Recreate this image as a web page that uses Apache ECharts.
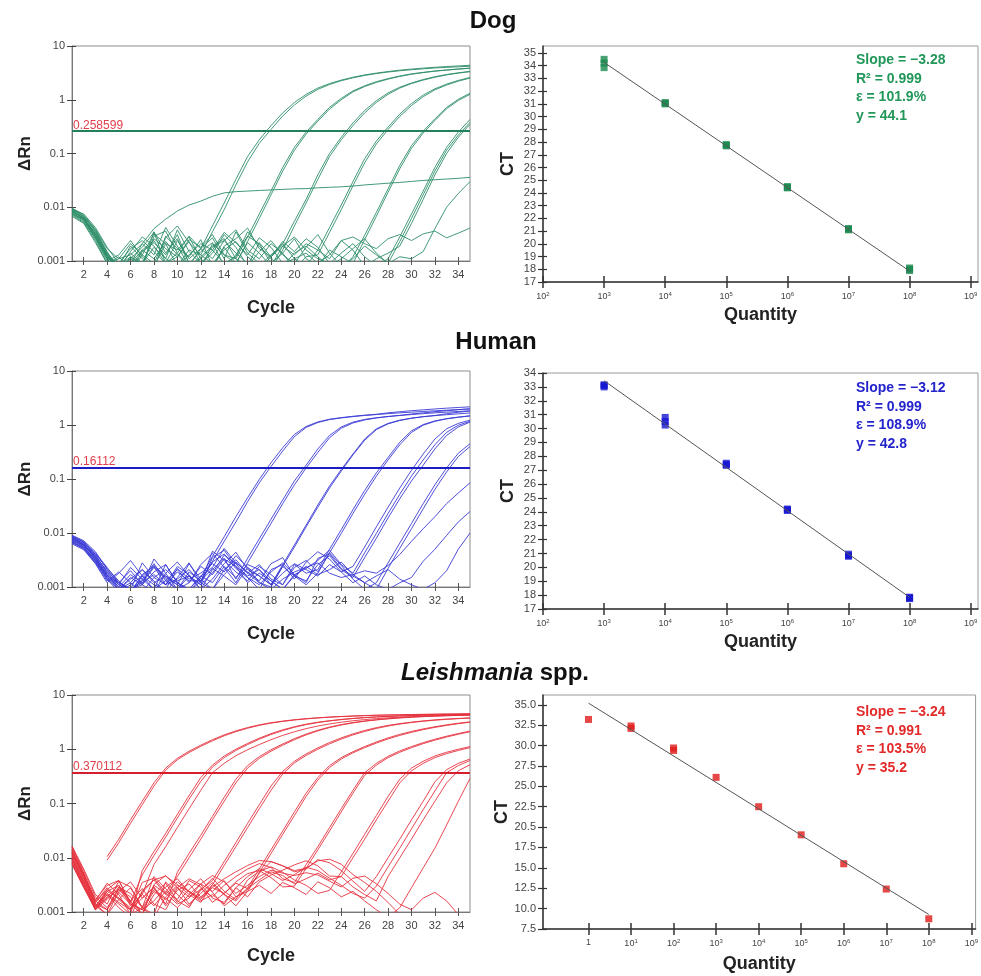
<!DOCTYPE html>
<html>
<head>
<meta charset="utf-8">
<script src="https://cdn.jsdelivr.net/npm/echarts@6.0.0/dist/echarts.min.js"></script>
<style>
html, body { margin: 0; padding: 0; background: #fff; }
#chart { width: 981px; height: 976px; }
</style>
</head>
<body>
<div id="chart"></div>
<script>
// ---------- amplification plots: ΔRn per cycle, one array per well ----------
const cycles = [1,2,3,4,5,6,7,8,9,10,11,12,13,14,15,16,17,18,19,20,21,22,23,24,25,26,27,28,29,30,31,32,33,34,35];

const dogCurves = [
  [0.0085,0.0062,0.0031,0.0012,0.0007,0.0015,0.0028,0.0019,0.0009,0.0024,0.0011,0.0017,0.0045,0.012,0.033,0.088,0.18,0.33,0.57,0.89,1.26,1.65,2.0,2.32,2.62,2.9,3.13,3.35,3.55,3.72,3.88,4.02,4.15,4.26,4.38],
  [0.0092,0.0075,0.0042,0.0018,0.0009,0.0006,0.0013,0.0032,0.0021,0.0008,0.0016,0.0013,0.0035,0.009,0.026,0.07,0.155,0.28,0.5,0.8,1.17,1.56,1.92,2.26,2.56,2.83,3.07,3.28,3.46,3.62,3.76,3.9,4.0,4.1,4.2],
  [0.0078,0.0058,0.0027,0.0011,0.0006,0.0012,0.0008,0.0035,0.0014,0.0026,0.0009,0.0007,0.0021,0.0013,0.0011,0.0028,0.0075,0.02,0.055,0.13,0.25,0.43,0.72,1.06,1.46,1.82,2.17,2.47,2.77,3.03,3.23,3.43,3.58,3.74,3.88],
  [0.0095,0.0068,0.0036,0.0014,0.0008,0.0019,0.0011,0.0007,0.0029,0.0017,0.0012,0.0025,0.0008,0.0018,0.0009,0.0023,0.0062,0.017,0.047,0.115,0.23,0.4,0.67,1.0,1.4,1.76,2.1,2.42,2.72,2.98,3.2,3.4,3.56,3.71,3.85],
  [0.0071,0.0052,0.0024,0.0009,0.0012,0.0007,0.0016,0.0024,0.0011,0.0038,0.0015,0.0009,0.0014,0.0031,0.0018,0.0008,0.0022,0.0012,0.0021,0.0055,0.014,0.04,0.1,0.2,0.37,0.63,0.96,1.34,1.71,2.05,2.38,2.68,2.95,3.17,3.37],
  [0.0088,0.0061,0.0033,0.0013,0.0006,0.0009,0.0021,0.0013,0.0042,0.0019,0.0008,0.0017,0.0027,0.0011,0.0035,0.0014,0.0009,0.0007,0.0016,0.0045,0.012,0.033,0.088,0.18,0.33,0.57,0.89,1.26,1.65,2.0,2.32,2.62,2.9,3.13,3.33],
  [0.0082,0.0064,0.0029,0.0012,0.0008,0.0014,0.0009,0.0026,0.0017,0.0012,0.0023,0.0009,0.0016,0.0034,0.0022,0.0013,0.0027,0.0018,0.0009,0.0011,0.0008,0.0016,0.0042,0.011,0.03,0.08,0.17,0.31,0.54,0.85,1.22,1.6,1.95,2.29,2.6],
  [0.0091,0.0069,0.0038,0.0015,0.0007,0.0011,0.0018,0.0034,0.0009,0.0014,0.0029,0.0017,0.0011,0.0024,0.0038,0.0016,0.0011,0.0021,0.0014,0.0007,0.0012,0.0013,0.0034,0.009,0.025,0.067,0.15,0.28,0.49,0.78,1.14,1.53,1.88,2.22,2.53],
  [0.0075,0.0054,0.0026,0.001,0.0013,0.0024,0.0012,0.0008,0.0021,0.0016,0.0028,0.0011,0.0007,0.0019,0.0026,0.0041,0.0017,0.0012,0.0023,0.0015,0.0026,0.0018,0.0009,0.0007,0.0012,0.003,0.008,0.022,0.06,0.14,0.26,0.44,0.72,1.02,1.32],
  [0.0086,0.0059,0.0031,0.0013,0.0008,0.0006,0.0015,0.0022,0.0013,0.0031,0.0009,0.0015,0.0022,0.0008,0.0013,0.0029,0.0021,0.0009,0.0014,0.0026,0.0011,0.0008,0.0016,0.0012,0.0009,0.0025,0.0068,0.019,0.052,0.125,0.24,0.41,0.68,0.97,1.26],
  [0.0079,0.006,0.0028,0.0011,0.0009,0.0017,0.0024,0.0015,0.0009,0.0012,0.0025,0.0018,0.0031,0.0013,0.0009,0.0022,0.0014,0.0008,0.0019,0.0028,0.0016,0.0011,0.0009,0.0014,0.0021,0.0012,0.0008,0.0011,0.0028,0.0075,0.02,0.055,0.13,0.25,0.43],
  [0.0089,0.0066,0.0035,0.0014,0.0007,0.0011,0.0008,0.0029,0.0036,0.0014,0.0008,0.0012,0.0019,0.0026,0.0011,0.0008,0.0015,0.0024,0.0013,0.0009,0.0018,0.0031,0.0014,0.0008,0.0011,0.0019,0.0013,0.0009,0.0023,0.0062,0.017,0.047,0.115,0.22,0.38],
  [0.0068,0.005,0.0022,0.0009,0.0011,0.0021,0.0013,0.0009,0.0027,0.0045,0.0022,0.0013,0.0009,0.0016,0.0023,0.0012,0.0008,0.0013,0.0021,0.0011,0.0014,0.0009,0.0013,0.0024,0.0016,0.0008,0.0011,0.0014,0.0019,0.005,0.014,0.04,0.1,0.2,0.35],
  [0.0097,0.0072,0.0039,0.0017,0.0011,0.0013,0.0021,0.004,0.006,0.0085,0.011,0.013,0.016,0.0185,0.0195,0.02,0.0205,0.021,0.0215,0.022,0.0222,0.023,0.0235,0.024,0.0248,0.026,0.027,0.028,0.029,0.0302,0.0315,0.0325,0.0335,0.0345,0.036],
  [0.0084,0.0063,0.0032,0.0013,0.0008,0.0012,0.0009,0.0018,0.0011,0.0008,0.0013,0.0021,0.0016,0.0009,0.0012,0.0035,0.0019,0.0011,0.0008,0.0014,0.0019,0.0012,0.0008,0.0011,0.0017,0.0026,0.0014,0.0009,0.0012,0.0011,0.0015,0.004,0.01,0.018,0.03],
  [0.0074,0.0058,0.0027,0.0012,0.0007,0.0009,0.0016,0.0011,0.0023,0.0013,0.0008,0.0011,0.0018,0.0024,0.0014,0.0009,0.0007,0.0012,0.0019,0.0013,0.0021,0.0016,0.0011,0.0024,0.0028,0.0021,0.0017,0.0026,0.0031,0.0024,0.0032,0.0036,0.0027,0.0033,0.0041]
];

const humanCurves = [
  [0.0082,0.0061,0.0034,0.0016,0.0011,0.0023,0.0014,0.0009,0.0026,0.0012,0.0008,0.0015,0.0037,0.0085,0.02,0.045,0.098,0.2,0.38,0.67,0.94,1.14,1.28,1.37,1.45,1.52,1.58,1.68,1.76,1.84,1.91,1.98,2.05,2.11,2.17],
  [0.0075,0.0058,0.0041,0.0022,0.0013,0.0008,0.0017,0.0024,0.0011,0.0019,0.0013,0.0013,0.003,0.007,0.016,0.038,0.085,0.17,0.33,0.61,0.9,1.11,1.26,1.35,1.43,1.5,1.56,1.62,1.68,1.73,1.78,1.83,1.88,1.93,1.98],
  [0.0088,0.0069,0.0038,0.0019,0.0012,0.0009,0.0028,0.0015,0.0011,0.0024,0.0017,0.0009,0.0021,0.0034,0.0014,0.0034,0.0078,0.018,0.041,0.092,0.18,0.36,0.64,0.92,1.13,1.27,1.36,1.44,1.51,1.6,1.68,1.76,1.84,1.92,2.0],
  [0.0069,0.0052,0.0029,0.0014,0.0009,0.0015,0.0011,0.0033,0.0018,0.0009,0.0012,0.0026,0.0042,0.0023,0.0012,0.0028,0.0065,0.015,0.035,0.078,0.16,0.31,0.58,0.87,1.09,1.24,1.35,1.43,1.5,1.56,1.62,1.68,1.73,1.78,1.83],
  [0.0091,0.0072,0.0045,0.0021,0.0011,0.0008,0.0014,0.0027,0.0013,0.0009,0.0016,0.0011,0.0035,0.0048,0.0024,0.0016,0.0021,0.0011,0.0026,0.006,0.014,0.033,0.074,0.15,0.29,0.55,0.85,1.07,1.23,1.34,1.43,1.5,1.62,1.72,1.82],
  [0.0063,0.0049,0.0027,0.0012,0.0018,0.0031,0.0016,0.0011,0.0009,0.0022,0.0014,0.0018,0.0027,0.0019,0.0038,0.0023,0.0012,0.001,0.0024,0.0055,0.013,0.03,0.068,0.14,0.28,0.52,0.82,1.05,1.21,1.33,1.42,1.49,1.55,1.61,1.67],
  [0.0079,0.0064,0.0036,0.0017,0.0009,0.0012,0.0021,0.0013,0.0008,0.0015,0.0028,0.0012,0.0046,0.0031,0.0019,0.0013,0.0024,0.0017,0.0011,0.0026,0.0018,0.0021,0.005,0.0115,0.027,0.061,0.13,0.25,0.48,0.78,1.02,1.19,1.31,1.4,1.48],
  [0.0085,0.0066,0.0043,0.0023,0.0012,0.0009,0.0011,0.0019,0.0026,0.0012,0.0009,0.0016,0.0023,0.0052,0.0028,0.0019,0.0013,0.0027,0.0035,0.0016,0.0011,0.0018,0.0043,0.0098,0.023,0.052,0.113,0.225,0.43,0.73,0.99,1.17,1.3,1.39,1.47],
  [0.0072,0.0055,0.0031,0.0015,0.001,0.0017,0.0012,0.0023,0.0014,0.0009,0.0019,0.0013,0.0029,0.0041,0.0022,0.0015,0.0009,0.0021,0.0026,0.0014,0.0029,0.0045,0.0033,0.0019,0.0024,0.0055,0.013,0.03,0.068,0.145,0.29,0.55,0.85,1.07,1.23],
  [0.0081,0.0059,0.0033,0.0014,0.0008,0.0011,0.0016,0.0009,0.0013,0.0021,0.0012,0.0024,0.0017,0.0033,0.0024,0.0012,0.0018,0.0013,0.0009,0.0017,0.0022,0.0031,0.0048,0.0026,0.0018,0.0043,0.0098,0.023,0.052,0.113,0.225,0.43,0.73,0.99,1.17],
  [0.0066,0.0051,0.0028,0.0013,0.0019,0.0012,0.0008,0.0015,0.0021,0.0013,0.0016,0.0009,0.0014,0.0027,0.0044,0.0021,0.0016,0.0011,0.0024,0.0016,0.0013,0.0026,0.0038,0.0021,0.0015,0.0035,0.008,0.019,0.043,0.092,0.18,0.36,0.64,0.92,1.13],
  [0.0087,0.0068,0.004,0.0018,0.0011,0.0009,0.0013,0.0024,0.0015,0.0011,0.0027,0.0014,0.0009,0.0021,0.0032,0.0018,0.0026,0.0014,0.0011,0.0023,0.0031,0.0019,0.0043,0.0025,0.0014,0.0009,0.0012,0.0028,0.0065,0.015,0.035,0.078,0.16,0.3,0.45],
  [0.0074,0.0056,0.0032,0.0016,0.0012,0.002,0.0011,0.0008,0.0018,0.0029,0.0016,0.0011,0.0018,0.0039,0.0027,0.0015,0.0011,0.0019,0.0028,0.0017,0.0012,0.0034,0.0041,0.0022,0.0016,0.0012,0.0009,0.0022,0.0052,0.012,0.028,0.064,0.135,0.26,0.4],
  [0.0078,0.006,0.0037,0.002,0.0012,0.0009,0.0012,0.0017,0.0011,0.0014,0.0021,0.0012,0.0009,0.0017,0.0029,0.0018,0.0012,0.0009,0.0014,0.0019,0.0023,0.0028,0.0018,0.0015,0.0017,0.002,0.0018,0.0025,0.004,0.007,0.012,0.02,0.035,0.055,0.085],
  [0.0068,0.0053,0.003,0.0015,0.0009,0.0014,0.0021,0.0012,0.0016,0.0011,0.0008,0.0013,0.0022,0.0016,0.0011,0.0023,0.0016,0.0011,0.0018,0.0027,0.0021,0.0016,0.0026,0.0019,0.0012,0.0016,0.0011,0.0009,0.0012,0.0015,0.003,0.005,0.009,0.016,0.025],
  [0.0084,0.0062,0.0035,0.0017,0.001,0.0008,0.0016,0.0025,0.0016,0.0012,0.0009,0.0016,0.0012,0.0024,0.0015,0.0026,0.0021,0.0013,0.0009,0.0016,0.0024,0.0017,0.0021,0.0029,0.0017,0.0012,0.0016,0.0021,0.0014,0.0011,0.0009,0.0012,0.002,0.005,0.01]
];

const leishCurves = [
  [null,null,null,0.0105,0.022,0.05,0.11,0.24,0.45,0.68,0.92,1.19,1.5,1.84,2.18,2.51,2.82,3.08,3.3,3.5,3.66,3.8,3.92,4.02,4.1,4.18,4.24,4.29,4.33,4.37,4.4,4.43,4.46,4.48,4.5],
  [null,null,null,0.009,0.019,0.043,0.095,0.21,0.41,0.64,0.87,1.13,1.43,1.77,2.11,2.44,2.76,3.03,3.26,3.46,3.63,3.77,3.9,4.0,4.08,4.16,4.22,4.27,4.31,4.35,4.38,4.41,4.44,4.46,4.48],
  [0.016,0.0052,0.0016,0.0034,0.0021,0.0009,0.0058,0.013,0.028,0.063,0.14,0.3,0.51,0.75,1.0,1.28,1.6,1.94,2.28,2.6,2.9,3.15,3.36,3.55,3.7,3.84,3.95,4.04,4.12,4.19,4.25,4.3,4.34,4.38,4.41],
  [0.012,0.0041,0.0012,0.0026,0.0038,0.0015,0.0048,0.011,0.024,0.054,0.12,0.255,0.47,0.7,0.95,1.22,1.53,1.87,2.21,2.54,2.85,3.1,3.32,3.51,3.68,3.82,3.93,4.02,4.1,4.17,4.23,4.28,4.32,4.36,4.39],
  [0.0095,0.0033,0.0011,0.0019,0.0031,0.0013,0.0021,0.0075,0.016,0.036,0.08,0.175,0.37,0.55,0.76,0.98,1.22,1.5,1.8,2.1,2.4,2.68,2.93,3.15,3.35,3.52,3.67,3.8,3.91,4.0,4.08,4.15,4.21,4.26,4.3],
  [0.014,0.0045,0.0013,0.0009,0.0024,0.0036,0.0018,0.0029,0.0014,0.0054,0.012,0.026,0.058,0.13,0.28,0.5,0.73,0.98,1.25,1.57,1.9,2.24,2.56,2.85,3.1,3.32,3.5,3.66,3.8,3.92,4.02,4.1,4.17,4.23,4.28],
  [0.011,0.0038,0.0015,0.0028,0.0017,0.0011,0.0035,0.0042,0.0023,0.0045,0.01,0.022,0.05,0.11,0.24,0.45,0.68,0.92,1.19,1.5,1.84,2.18,2.51,2.8,3.06,3.28,3.47,3.63,3.77,3.89,3.99,4.07,4.14,4.2,4.25],
  [0.0125,0.0047,0.0014,0.0011,0.0029,0.0016,0.0009,0.0032,0.0047,0.0028,0.0019,0.0026,0.0038,0.0085,0.019,0.043,0.095,0.21,0.39,0.6,0.82,1.06,1.33,1.62,1.92,2.22,2.5,2.75,2.97,3.16,3.33,3.48,3.6,3.7,3.79],
  [0.0088,0.0031,0.0012,0.0021,0.0012,0.0008,0.0025,0.0039,0.0021,0.0036,0.0024,0.0018,0.0032,0.0072,0.016,0.036,0.08,0.175,0.35,0.56,0.77,1.0,1.26,1.54,1.84,2.13,2.42,2.68,2.91,3.11,3.28,3.43,3.56,3.66,3.75],
  [0.0135,0.0051,0.0017,0.0031,0.0038,0.0014,0.0011,0.0024,0.0017,0.0029,0.0014,0.0022,0.0035,0.0021,0.0016,0.0028,0.0062,0.014,0.031,0.07,0.155,0.3,0.5,0.7,0.9,1.12,1.36,1.62,1.88,2.13,2.37,2.6,2.82,3.02,3.2],
  [0.0105,0.0036,0.0011,0.0017,0.0028,0.0022,0.0012,0.0045,0.0027,0.0015,0.0026,0.0041,0.0023,0.0013,0.0019,0.0024,0.0053,0.012,0.027,0.06,0.135,0.27,0.46,0.66,0.86,1.07,1.3,1.55,1.8,2.05,2.3,2.53,2.75,2.96,3.15],
  [0.0155,0.0058,0.0019,0.0012,0.0026,0.0019,0.0009,0.0021,0.0034,0.0016,0.0012,0.0027,0.0019,0.0031,0.0045,0.0062,0.0078,0.0066,0.0041,0.0035,0.0075,0.016,0.036,0.08,0.175,0.37,0.55,0.74,0.93,1.12,1.32,1.53,1.74,1.95,2.16],
  [0.0092,0.0034,0.0013,0.0022,0.0015,0.0011,0.0018,0.0028,0.0013,0.0025,0.0033,0.0019,0.0028,0.0022,0.0036,0.0051,0.0058,0.0043,0.0029,0.003,0.0064,0.014,0.031,0.07,0.155,0.33,0.51,0.7,0.88,1.07,1.27,1.47,1.68,1.89,2.1],
  [0.0118,0.0043,0.0014,0.0009,0.0017,0.0028,0.0012,0.0009,0.0036,0.0021,0.0013,0.0025,0.0042,0.0024,0.0017,0.0039,0.0056,0.0068,0.0054,0.0039,0.0031,0.0022,0.0025,0.0055,0.012,0.027,0.06,0.135,0.28,0.45,0.6,0.75,0.88,1.0,1.12],
  [0.0075,0.0028,0.0011,0.0024,0.0031,0.0016,0.0027,0.0014,0.0011,0.0028,0.0041,0.0032,0.0018,0.0015,0.0028,0.0019,0.0036,0.0048,0.0059,0.0074,0.0088,0.0071,0.0046,0.0045,0.01,0.022,0.05,0.11,0.24,0.4,0.55,0.7,0.83,0.95,1.07],
  [0.0142,0.0049,0.0016,0.0011,0.0023,0.0014,0.0009,0.0031,0.0022,0.0014,0.0018,0.0033,0.0024,0.0038,0.0019,0.0026,0.0052,0.0085,0.0071,0.0055,0.0062,0.0092,0.0081,0.0058,0.0037,0.0024,0.0045,0.01,0.022,0.05,0.11,0.25,0.42,0.55,0.66],
  [0.0098,0.0035,0.0012,0.0018,0.0026,0.0015,0.0011,0.0016,0.0029,0.0041,0.0023,0.0016,0.0021,0.0014,0.0028,0.0045,0.0063,0.0051,0.0038,0.0049,0.0067,0.0058,0.0042,0.0031,0.0022,0.0018,0.003,0.0068,0.015,0.034,0.077,0.17,0.37,0.5,0.62],
  [0.0128,0.0046,0.0015,0.0026,0.0018,0.0012,0.0021,0.0013,0.0024,0.0017,0.0038,0.0029,0.0015,0.0022,0.0034,0.0027,0.0039,0.0055,0.0047,0.0033,0.0041,0.0052,0.0039,0.0045,0.0029,0.0021,0.0016,0.0045,0.01,0.022,0.05,0.11,0.24,0.4,0.52],
  [0.0082,0.003,0.0011,0.0021,0.0014,0.0009,0.0012,0.0026,0.0018,0.0012,0.0021,0.0015,0.0032,0.0021,0.0013,0.0024,0.0031,0.0022,0.0035,0.0028,0.0021,0.0036,0.0028,0.0019,0.0024,0.0016,0.0011,0.0008,0.0012,0.0028,0.0065,0.015,0.04,0.11,0.29],
  [0.0165,0.0062,0.0021,0.0014,0.0037,0.0029,0.0012,0.0008,0.0019,0.0031,0.0024,0.0017,0.0029,0.0041,0.0055,0.0072,0.0089,0.0085,0.0071,0.0058,0.0064,0.0088,0.0094,0.0076,0.0049,0.0035,0.0024,0.0015,0.0009,0.0006,0.0005,0.0005,0.0005,0.0005,0.0005],
  [0.0078,0.0029,0.0013,0.0024,0.0018,0.0011,0.0023,0.0039,0.0046,0.0032,0.0021,0.0033,0.0047,0.0036,0.0022,0.0031,0.0045,0.0059,0.0052,0.0047,0.0053,0.0048,0.0037,0.0029,0.0042,0.0046,0.0033,0.0022,0.0014,0.0011,0.0018,0.0023,0.0016,0.0009,0.0006]
];

const thresholds = [0.258599, 0.16112, 0.370112];
const ampTicks = [2,4,6,8,10,12,14,16,18,20,22,24,26,28,30,32,34];

// ---------- standard curves: quantity vs CT ----------
const dogQty = [1e3,1e3,1e3,1e4,1e4,1e4,1e5,1e5,1e5,1e6,1e6,1e6,1e7,1e7,1e7,1e8,1e8,1e8];
const dogCt  = [34.5,34.2,33.85,31.1,31.0,31.05,27.8,27.7,27.75,24.45,24.4,24.5,21.2,21.1,21.15,18.1,17.9,18.0];
const humanQty = [1e3,1e3,1e3,1e4,1e4,1e4,1e5,1e5,1e5,1e6,1e6,1e6,1e7,1e7,1e7,1e8,1e8,1e8];
const humanCt  = [33.1,33.0,33.15,30.8,30.5,30.25,27.5,27.35,27.4,24.15,24.1,24.2,20.95,20.8,20.85,17.8,17.75,17.85];
const leishQty = [1,10,10,100,100,1e3,1e4,1e5,1e6,1e7,1e8];
const leishCt  = [33.2,32.4,32.1,29.7,29.4,26.1,22.5,19.05,15.5,12.4,8.75];

const fitSlope = [-3.28, -3.12, -3.24];
const fitIntercept = [44.1, 42.8, 35.2];
const fitR2 = ['0.999', '0.999', '0.991'];
const fitEfficiency = ['101.9%', '108.9%', '103.5%'];

const dogCtTicks = [17,18,19,20,21,22,23,24,25,26,27,28,29,30,31,32,33,34,35];
const humanCtTicks = [17,18,19,20,21,22,23,24,25,26,27,28,29,30,31,32,33,34];
const leishCtTicks = [7.5,10,12.5,15,17.5,20,22.5,25,27.5,30,32.5,35];
const leishCtTickLabels = ['7.5','10.0','12.5','15.0','17.5','20.5','22.5','25.0','27.5','30.0','32.5','35.0'];
const dogQtyTicks = [2,3,4,5,6,7,8,9];     // powers of ten
const humanQtyTicks = [2,3,4,5,6,7,8,9];
const leishQtyTicks = [0,1,2,3,4,5,6,7,8,9];

// ---------- chart assembly ----------
const FONT = '"Liberation Sans", Arial, sans-serif';
const NARROW = '"Liberation Sans Narrow", "Liberation Sans", Arial, sans-serif';

const grids = [], xAxes = [], yAxes = [], series = [];

function addGrid(box, border) {
  grids.push(Object.assign({ show: true, borderColor: border, borderWidth: 1, backgroundColor: 'transparent' }, box));
  return grids.length - 1;
}

function addAmplification(box, curves, color, thr, thrColor, nameGapX) {
  const g = addGrid(box, '#8c8c8c');
  const xi = xAxes.length, yi = yAxes.length;
  xAxes.push({
    type: 'value', gridIndex: g, position: 'bottom', min: 1, max: 35,
    name: 'Cycle', nameLocation: 'middle', nameGap: nameGapX,
    nameTextStyle: { fontFamily: FONT, fontWeight: 'bold', fontSize: 18, color: '#222' },
    axisLine: { show: true, onZero: false, lineStyle: { color: '#777', width: 1 } },
    axisTick: { show: true, customValues: ampTicks, length: 4, lineStyle: { color: '#555' } },
    axisLabel: { customValues: ampTicks, fontFamily: FONT, fontSize: 11, color: '#444', margin: 8 },
    splitLine: { show: false }
  });
  xAxes.push({
    type: 'value', gridIndex: g, position: 'bottom', min: 1, max: 35,
    axisLine: { show: false, onZero: false },
    axisTick: { show: true, inside: true, customValues: ampTicks, length: 4, lineStyle: { color: '#555' } },
    axisLabel: { show: false }, splitLine: { show: false }
  });
  yAxes.push({
    type: 'log', logBase: 10, gridIndex: g, position: 'left', min: 0.001, max: 10,
    name: 'ΔRn', nameLocation: 'middle', nameGap: 38,
    nameTextStyle: { fontFamily: FONT, fontWeight: 'bold', fontSize: 17, color: '#222' },
    axisLine: { show: true, onZero: false, lineStyle: { color: '#777', width: 1 } },
    axisTick: { show: true, length: 5, lineStyle: { color: '#444' } },
    axisLabel: { fontFamily: FONT, fontSize: 11, color: '#444', margin: 7,
                 formatter: v => String(+Number(v).toPrecision(2)) },
    splitLine: { show: false }
  });
  yAxes.push({
    type: 'log', logBase: 10, gridIndex: g, position: 'left', min: 0.001, max: 10,
    axisLine: { show: false, onZero: false },
    axisTick: { show: true, inside: true, length: 4, lineStyle: { color: '#444' } },
    axisLabel: { show: false }, splitLine: { show: false }
  });
  curves.forEach(cv => {
    series.push({
      type: 'line', xAxisIndex: xi, yAxisIndex: yi, silent: true, clip: true,
      symbol: 'none', showSymbol: false, animation: false,
      lineStyle: { width: 1, color: color, opacity: 0.9 },
      data: cycles.map((c, j) => [c, cv[j]])
    });
  });
  series[series.length - 1].markLine = {
    silent: true, symbol: ['none', 'none'], animation: false,
    lineStyle: { color: thrColor, width: 2, type: 'solid' },
    label: { show: true, position: 'insideStartTop', distance: [1, 0],
             formatter: String(thr), fontFamily: FONT, fontSize: 12, color: '#e2404c' },
    data: [{ yAxis: thr }]
  };
}

function addStandard(box, qty, ct, k, color, yMin, yMax, yTicks, yLabels, xMin, xMax, xTicks, nameGapX) {
  const g = addGrid(box, '#9a9a9a');
  const xi = xAxes.length, yi = yAxes.length;
  const axisDark = { color: '#333', width: 1.5 };
  const xLabel = v => (v === 0 ? '1' : '10{s|' + v + '}');
  xAxes.push({
    type: 'value', gridIndex: g, position: 'bottom', min: xMin, max: xMax,
    name: 'Quantity', nameLocation: 'middle', nameGap: nameGapX,
    nameTextStyle: { fontFamily: FONT, fontWeight: 'bold', fontSize: 18, color: '#222' },
    axisLine: { show: true, onZero: false, lineStyle: axisDark },
    axisTick: { show: true, customValues: xTicks, length: 6, lineStyle: { color: '#333', width: 1.5 } },
    axisLabel: { customValues: xTicks, formatter: xLabel, fontFamily: NARROW, fontSize: 9, color: '#444', margin: 9,
                 rich: { s: { fontFamily: NARROW, fontSize: 6, color: '#444', padding: [0, 0, 6, 0] } } },
    splitLine: { show: false }
  });
  xAxes.push({
    type: 'value', gridIndex: g, position: 'bottom', min: xMin, max: xMax,
    axisLine: { show: false, onZero: false },
    axisTick: { show: true, inside: true, customValues: xTicks, length: 6, lineStyle: { color: '#333', width: 1.5 } },
    axisLabel: { show: false }, splitLine: { show: false }
  });
  yAxes.push({
    type: 'value', gridIndex: g, position: 'left', min: yMin, max: yMax,
    name: 'CT', nameLocation: 'middle', nameGap: 26,
    nameTextStyle: { fontFamily: FONT, fontWeight: 'bold', fontSize: 18, color: '#222' },
    axisLine: { show: true, onZero: false, lineStyle: axisDark },
    axisTick: { show: true, customValues: yTicks, length: 5, lineStyle: { color: '#333', width: 1.2 } },
    axisLabel: { customValues: yTicks, fontFamily: NARROW, fontSize: 11, color: '#444', margin: 7,
                 formatter: v => (yLabels ? yLabels[yTicks.indexOf(v)] : String(v)) },
    splitLine: { show: false }
  });
  yAxes.push({
    type: 'value', gridIndex: g, position: 'left', min: yMin, max: yMax,
    axisLine: { show: false, onZero: false },
    axisTick: { show: true, inside: true, customValues: yTicks, length: 4, lineStyle: { color: '#333', width: 1.2 } },
    axisLabel: { show: false }, splitLine: { show: false }
  });
  const logQ = qty.map(q => Math.log10(q));
  const x0 = Math.min.apply(null, logQ), x1 = Math.max.apply(null, logQ);
  series.push({
    type: 'line', xAxisIndex: xi, yAxisIndex: yi, silent: true, symbol: 'none', animation: false,
    lineStyle: { color: '#555', width: 1 },
    data: [[x0, fitIntercept[k] + fitSlope[k] * x0], [x1, fitIntercept[k] + fitSlope[k] * x1]]
  });
  series.push({
    type: 'scatter', xAxisIndex: xi, yAxisIndex: yi, silent: true, animation: false,
    symbol: 'rect', symbolSize: 7, itemStyle: { color: color },
    data: logQ.map((x, j) => [x, ct[j]])
  });
}

addAmplification({ left: 72, top: 46, width: 398, height: 215 }, dogCurves, '#2f8e68', thresholds[0], '#23805a', 38);
addStandard({ left: 543, top: 46, width: 435, height: 236 }, dogQty, dogCt, 0, '#1b8a50',
  17, 35.55, dogCtTicks, null, 2, 9.12, dogQtyTicks, 24);

addAmplification({ left: 72, top: 371, width: 398, height: 216 }, humanCurves, '#3b3bd6', thresholds[1], '#1c1cc4', 38);
addStandard({ left: 543, top: 373, width: 435, height: 236 }, humanQty, humanCt, 1, '#1616d2',
  17, 34, humanCtTicks, null, 2, 9.12, humanQtyTicks, 24);

addAmplification({ left: 72, top: 695, width: 398, height: 217 }, leishCurves, '#e6323e', thresholds[2], '#d61e2c', 35);
addStandard({ left: 543, top: 695, width: 435, height: 234 }, leishQty, leishCt, 2, '#e01a1a',
  7.5, 36.2, leishCtTicks, leishCtTickLabels, -1.07, 9.1, leishQtyTicks, 26);

function fitText(k) {
  return 'Slope = \u2212' + Math.abs(fitSlope[k]).toFixed(2) + '\n' +
         'R\u00b2 = ' + fitR2[k] + '\n' +
         '\u03b5 = ' + fitEfficiency[k] + '\n' +
         'y = ' + fitIntercept[k].toFixed(1);
}
const annColors = ['#22975a', '#2424cc', '#e22a2a'];
const annTops = [51, 379, 703];

const graphic = [
  { type: 'text', x: 493, y: 21, silent: true,
    style: { text: 'Dog', font: 'bold 24px ' + FONT, fill: '#111', align: 'center', verticalAlign: 'middle' } },
  { type: 'text', x: 496, y: 342, silent: true,
    style: { text: 'Human', font: 'bold 24px ' + FONT, fill: '#111', align: 'center', verticalAlign: 'middle' } },
  { type: 'text', x: 495, y: 673, silent: true,
    style: { text: '{i|Leishmania} spp.', font: 'bold 24px ' + FONT, fill: '#111', align: 'center', verticalAlign: 'middle',
             rich: { i: { fontStyle: 'italic', fontWeight: 'bold', fontSize: 24, fontFamily: FONT, fill: '#111', color: '#111' } } } }
];
for (let k = 0; k < 3; k++) {
  graphic.push({ type: 'text', x: 856, y: annTops[k], silent: true,
    style: { text: fitText(k), font: 'bold 14px ' + FONT, fill: annColors[k], lineHeight: 18.5, verticalAlign: 'top' } });
}

const chart = echarts.init(document.getElementById('chart'), null, { renderer: 'canvas', width: 981, height: 976 });
chart.setOption({
  animation: false,
  backgroundColor: '#fff',
  textStyle: { fontFamily: FONT },
  grid: grids,
  xAxis: xAxes,
  yAxis: yAxes,
  series: series,
  graphic: graphic
});
</script>
</body>
</html>
